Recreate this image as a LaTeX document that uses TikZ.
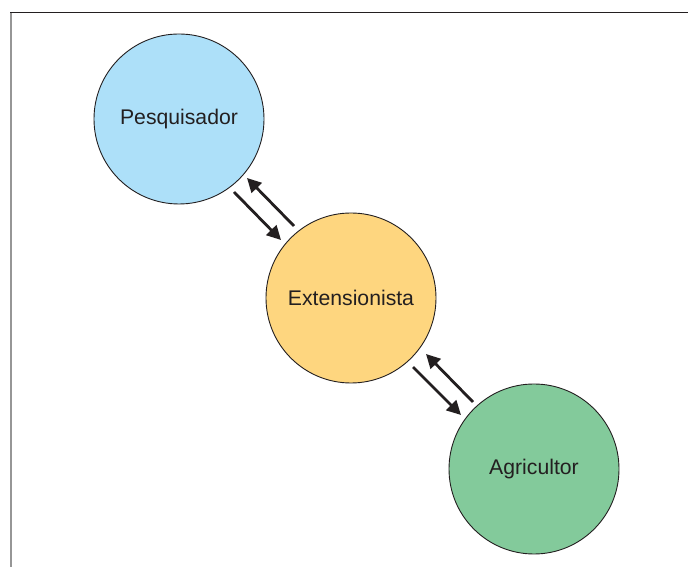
\documentclass[tikz,border=0pt]{standalone}
\usepackage{fontspec}
\setmainfont{Liberation Sans}
\usetikzlibrary{arrows.meta}
\definecolor{inkdark}{RGB}{35,31,32}
\definecolor{framegray}{RGB}{150,150,150}
\definecolor{pesqblue}{RGB}{173,224,249}
\definecolor{extyellow}{RGB}{254,214,127}
\definecolor{agrigreen}{RGB}{131,202,155}
\tikzset{
  actor/.style={circle, draw=inkdark, line width=0.9pt, minimum size=170pt,
    inner sep=0pt, font=\fontsize{21.2}{25}\selectfont, text=inkdark},
  flow/.style={draw=inkdark, line width=2.8pt,
    -{Triangle[length=14pt, width=14pt]}, shorten >=0pt},
}
\begin{document}
\begin{tikzpicture}[x=1pt, y=1pt]
  \useasboundingbox (0,0) rectangle (688,567);
  % frame
  \draw[framegray, line width=2.2pt] (11,0) -- (11,554.5);
  \draw[inkdark, line width=1.3pt] (10,554.5) -- (688,554.5);
  % actors
  \node[actor, fill=pesqblue]  (pesq) at (179,448) {Pesquisador};
  \node[actor, fill=extyellow] (ext)  at (351,269) {Extensionista};
  \node[actor, fill=agrigreen] (agri) at (534,98)  {Agricultor};
  % link anchors
  \coordinate (a1) at (234,375);
  \coordinate (a2) at (281,327);
  \coordinate (b1) at (294,341);
  \coordinate (b2) at (247,389);
  \coordinate (c1) at (413,200);
  \coordinate (c2) at (461,152);
  \coordinate (d1) at (473,165);
  \coordinate (d2) at (426,213);
  % exchanges
  \draw[flow] (a1) -- (a2);
  \draw[flow] (b1) -- (b2);
  \draw[flow] (c1) -- (c2);
  \draw[flow] (d1) -- (d2);
\end{tikzpicture}
\end{document}
